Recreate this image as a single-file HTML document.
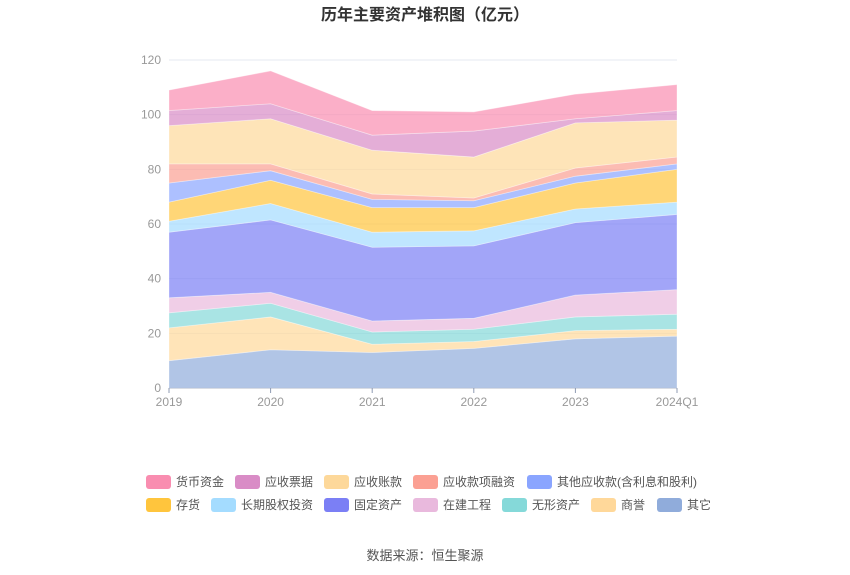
<!DOCTYPE html>
<html><head><meta charset="utf-8"><style>
body{margin:0;background:#fff;font-family:"Liberation Sans","Noto Sans CJK SC",sans-serif;}
#wrap{position:relative;width:850px;height:575px;}
.lg{position:absolute;font-size:12px;color:#555;height:16px;line-height:16px;}
.lg i{position:absolute;left:0;top:1px;width:25px;height:14px;border-radius:3px;}
.lg span{position:absolute;left:30px;white-space:nowrap;}
</style></head><body>
<div id="wrap">
<svg id="svg" width="850" height="575" style="position:absolute;left:0;top:0">
<text x="425" y="20" text-anchor="middle" font-size="16" font-weight="bold" fill="#333">历年主要资产堆积图（亿元）</text>
<text x="425" y="560" text-anchor="middle" font-size="13" fill="#555">数据来源：恒生聚源</text>
</svg>
<div id="legend"></div>
</div>
<script>
const categories=["2019","2020","2021","2022","2023","2024Q1"];
const seriesNames=["其它","商誉","无形资产","在建工程","固定资产","长期股权投资","存货","其他应收款(含利息和股利)","应收款项融资","应收账款","应收票据","货币资金"];
const sQita=[10,14,13,14.5,18,19];
const sShangyu=[12,12,3,2.5,3,2.5];
const sWuxing=[5.5,5,4.5,4.5,5,5.5];
const sZaijian=[5.5,4,4,4,8,9];
const sGuding=[24,26.5,27,26.5,26.5,27.5];
const sChangqi=[4,6,5.5,5.5,5,4.5];
const sCunhuo=[7,8.5,9,8.5,9.5,12];
const sQitaYs=[7,3.5,3,2.5,2.5,2];
const sRongzi=[7,2.5,2,1,3,2.5];
const sZhangkuan=[14,16.5,16,15,16.5,13.5];
const sPiaoju=[5.5,5.5,5.5,9.5,1.5,3.5];
const sHuobi=[7.5,12,9,7,9,9.5];
const yTicks=[0,20,40,60,80,100,120];
const series=[sQita,sShangyu,sWuxing,sZaijian,sGuding,sChangqi,sCunhuo,sQitaYs,sRongzi,sZhangkuan,sPiaoju,sHuobi];
const colors=["#90acdb","#ffd89a","#85d9d9","#e9b9dd","#7b7ff5","#a4dcff","#ffc53d","#8aa5ff","#fba093","#fdd89a","#d98cc6","#f98db0"];
const X0=169,X1=677,Y0=388,Y1=60,YMAX=120;
const sx=i=>X0+(X1-X0)*i/(categories.length-1);
const sy=v=>Y0-(Y0-Y1)*v/YMAX;
const svg=document.getElementById('svg');const NS="http://www.w3.org/2000/svg";
function mk(t,a){const e=document.createElementNS(NS,t);for(const k in a)e.setAttribute(k,a[k]);svg.appendChild(e);return e;}
yTicks.forEach(t=>{
 const l=mk('line',{x1:X0,x2:X1,y1:sy(t),y2:sy(t),stroke:t===0?'#8f9bb3':'#e6e9f0'});
 
 
 const tx=mk('text',{x:X0-8,y:sy(t)+4,'text-anchor':'end','font-size':12,fill:'#999'});tx.textContent=t;
 
 
});
let base=categories.map(()=>0);
series.forEach((s,k)=>{
 const top=base.map((b,i)=>b+s[i]);
 let d='M'+top.map((v,i)=>sx(i)+','+sy(v)).join('L');
 for(let i=categories.length-1;i>=0;i--)d+='L'+sx(i)+','+sy(base[i]);
 const p=mk('path',{d:d+'Z',fill:colors[k],'fill-opacity':0.7,stroke:'#fff','stroke-opacity':0.4,'stroke-width':0.8});
 
 
 base=top;
});
categories.forEach((c,i)=>{
 const l=mk('line',{x1:sx(i),x2:sx(i),y1:Y0,y2:Y0+5,stroke:'#8f9bb3'});
 
 
 const tx=mk('text',{x:sx(i),y:Y0+18,'text-anchor':'middle','font-size':12,fill:'#999'});tx.textContent=c;
 
 
});
const legendItems=[[11,146,482],[10,235,482],[9,324,482],[8,413,482],[7,527,482],[6,146,505],[5,211,505],[4,324,505],[3,413,505],[2,502,505],[1,591,505],[0,657,505]];
const lg=document.getElementById('legend');
legendItems.forEach(([k,x,y])=>{
 const d=document.createElement('div');d.className='lg';d.style.left=x+'px';d.style.top=(y-8)+'px';
 d.innerHTML='<i style="background:'+colors[k]+'"></i><span>'+seriesNames[k]+'</span>';
 
 
 lg.appendChild(d);
});
</script>
</body></html>
